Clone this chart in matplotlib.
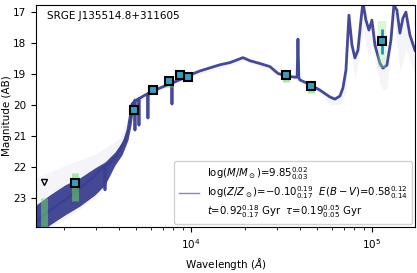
import numpy as np
import matplotlib
matplotlib.use("Agg")
import matplotlib.pyplot as plt

# best-fit model spectrum (wavelength in A, AB mag)
spec_wl = [1392, 1561, 1773, 2013, 2286, 2597, 2949, 3142, 3330, 3349, 3370, 3568, 3803,
           4053, 4319, 4486, 4603, 4721, 4843, 4895, 4905, 4915, 5140, 5161, 5180, 5570,
           5760, 5785, 5810, 5935, 6741, 7656, 7830, 7853, 7876, 8696, 9874, 11213, 12735,
           14463, 16428, 19383, 21184, 24060, 27325, 30253, 33488, 37553, 38600, 39015,
           39450, 40010, 45440, 51610, 58610, 62450, 66570, 69150, 71860, 74640, 77530,
           80540, 83700, 86960, 89200, 92660, 96250, 100000, 103900, 110700, 115000,
           121000, 127350, 132300, 137500, 142800, 148400, 154100, 162100, 172800]
spec_mag = [23.77, 23.52, 23.29, 23.06, 22.81, 22.55, 22.29, 22.10, 22.00, 22.74, 21.98, 21.87, 21.68,
            21.45, 21.13, 20.81, 20.42, 19.97, 19.90, 19.87, 20.81, 19.86, 19.80, 20.65, 19.79, 19.68,
            19.64, 20.42, 19.63, 19.60, 19.45, 19.32, 19.30, 19.97, 19.29, 19.18, 19.03, 18.90, 18.80,
            18.70, 18.63, 18.47, 18.57, 18.66, 18.76, 18.98, 19.06, 19.10, 19.10, 17.87,
            19.12, 19.19, 19.34, 19.52, 19.74, 19.81, 19.71, 19.45, 18.87, 17.10, 18.06,
            18.48, 18.23, 17.26, 16.68, 17.26, 17.58, 17.26, 18.06, 18.65, 18.81,
            18.71, 17.90, 16.77, 16.94, 17.68, 17.19, 17.00, 17.74, 18.23]

# dense UV part of the posterior band
uv_wl = [1392, 1663, 2013, 2436, 2949, 3349, 3803, 4157, 4486, 4662, 4843]
uv_top = [23.23, 22.90, 22.58, 22.35, 22.03, 21.84, 21.52, 21.19, 20.74, 20.00, 19.75]
uv_bot = [24.20, 23.87, 23.55, 23.26, 22.90, 22.58, 21.94, 21.61, 21.13, 20.65, 20.00]

# faint spread of posterior draws
env_wl = [1392, 2013, 2949, 4053, 4603, 4843, 6000, 10000, 20000, 30000, 40010, 51610,
          58610, 66570, 71860, 74640, 80540, 89200, 96250, 100000, 110700, 115000,
          121000, 132300, 142800, 154100, 172800]
env_hi = [22.35, 21.95, 21.60, 21.06, 20.20, 19.75, 19.55, 18.98, 18.45, 18.94, 19.17, 19.50,
          19.72, 19.69, 18.85, 17.08, 18.45, 16.65, 17.55, 17.24, 18.60, 18.78,
          18.68, 16.75, 17.66, 16.98, 18.20]
env_lo = [24.20, 23.70, 23.00, 21.70, 20.80, 20.05, 19.68, 19.10, 18.56, 19.04, 19.24, 19.62,
          20.00, 19.97, 19.60, 17.60, 19.19, 17.60, 18.50, 18.00, 19.30, 19.52,
          19.45, 17.20, 18.90, 18.20, 19.03]

# photometry
phot_wl = [2286, 4843, 6170, 7560, 8700, 9620, 33500, 46000, 113500]
phot_mag = [22.52, 20.16, 19.52, 19.23, 19.03, 19.10, 19.03, 19.39, 17.94]
phot_err = [0.08, 0.03, 0.02, 0.02, 0.03, 0.04, 0.04, 0.05, 0.40]
lim_wl = [1541]
lim_mag = [22.48]

# model photometry spread (green)
mod_wl = [1541, 2286, 4843, 6170, 7560, 8700, 9620, 33500, 46000]
mod_lo = [23.00, 22.20, 20.08, 19.45, 19.20, 18.95, 18.95, 19.00, 19.33]
mod_hi = [24.20, 23.10, 20.25, 19.60, 19.42, 19.12, 19.12, 19.25, 19.60]
w3_lo, w3_hi = 17.30, 18.80

col = '#3b4090'

fig = plt.figure(figsize=(4.17, 2.73), dpi=100)
ax = fig.add_axes([0.0863, 0.1685, 0.9087, 0.8132])

ax.fill_between(env_wl, env_hi, env_lo, color=col, alpha=0.05, lw=0)
ax.fill_between(uv_wl, uv_top, uv_bot, color=col, alpha=0.95, lw=0)
ax.plot(spec_wl, spec_mag, color=col, lw=2.0, alpha=0.95, solid_joinstyle='round')

ax.vlines(mod_wl, mod_lo, mod_hi, color='#66d966', lw=5, alpha=0.55)
ax.vlines([113500], [w3_lo], [w3_hi], color='#99e699', lw=6, alpha=0.35)

ax.errorbar(phot_wl, phot_mag, yerr=phot_err, fmt='s', ms=5.5, mfc='#3a9ec0',
            mec='k', mew=1.5, ecolor='#1f8fd0', elinewidth=2, capsize=0, zorder=5)
ax.plot(lim_wl, lim_mag, 'v', ms=5, mfc='white', mec='k', mew=1, zorder=5)

label = (r'$\log(M/M_\odot)$=9.85$^{0.02}_{0.03}$' + '\n'
         + r'$\log(Z/Z_\odot)$=$-$0.10$^{0.19}_{0.17}$  $E(B-V)$=0.58$^{0.12}_{0.14}$' + '\n'
         + r'$t$=0.92$^{0.18}_{0.17}$ Gyr  $\tau$=0.19$^{0.05}_{0.05}$ Gyr')
h, = ax.plot([], [], color='#8585b8', lw=1)
ax.legend([h], [label], loc='lower right', fontsize=7.3, framealpha=0.9,
          borderaxespad=0.3)

ax.text(0.03, 0.95, 'SRGE J135514.8+311605', transform=ax.transAxes,
        fontsize=7.5, va='center', ha='left')

ax.set_xscale('log')
ax.set_xlim(1392, 172800)
ax.set_ylim(23.94, 16.77)
ax.set_yticks([17, 18, 19, 20, 21, 22, 23])
ax.tick_params(labelsize=7.5)
ax.set_xlabel(r'Wavelength ($\AA$)', fontsize=7.5)
ax.set_ylabel('Magnitude (AB)', fontsize=7.5, labelpad=1)

fig.savefig('out.png', dpi=100)
